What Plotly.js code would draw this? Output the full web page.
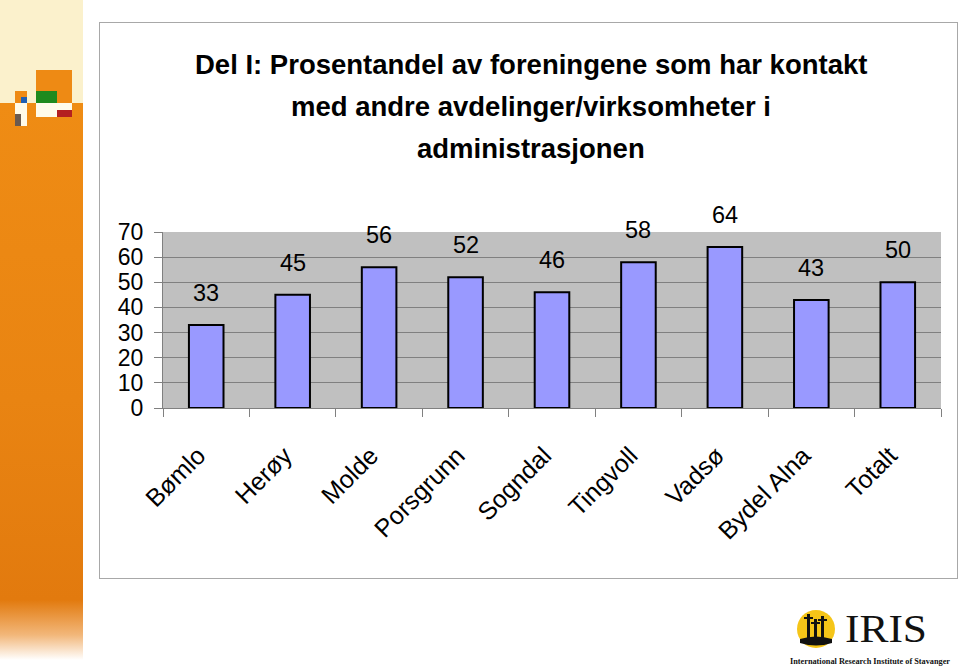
<!DOCTYPE html>
<html>
<head>
<meta charset="utf-8">
<script src="https://cdn.plot.ly/plotly-3.0.1.min.js"></script>
<style>
  html, body { margin: 0; padding: 0; background: #ffffff; }
  #page { position: relative; width: 960px; height: 669px; overflow: hidden; background: #fff; }
  #strip { position: absolute; left: 0; top: 0; width: 83px; height: 669px;
    background: linear-gradient(to bottom, #FBF1CC 0px, #FBF1CC 103px, #EF8C14 103px, #E98412 400px, #E27A0E 600px, #F2B77A 635px, #ffffff 660px); }
  .blk { position: absolute; }
  #frame { position: absolute; left: 99px; top: 22px; width: 857px; height: 555px; border: 1.5px solid #A8A8A8; background: #fff; }
  #chart { position: absolute; left: 0; top: 0; width: 960px; height: 669px; }
  #logo { position: absolute; left: 780px; top: 598px; }
</style>
</head>
<body>
<div id="page">
  <div id="strip"></div>
  <div class="blk" style="left:36px;top:70px;width:36px;height:33px;background:#EE8A14"></div>
  <div class="blk" style="left:36px;top:91px;width:21px;height:12px;background:#1E8A1E"></div>
  <div class="blk" style="left:15px;top:91px;width:12px;height:12px;background:#EE8A14"></div>
  <div class="blk" style="left:21px;top:97px;width:6px;height:6px;background:#1E5FB4"></div>
  <div class="blk" style="left:36px;top:103px;width:36px;height:14px;background:#FFFBEA"></div>
  <div class="blk" style="left:57px;top:110px;width:15px;height:7px;background:#B42020"></div>
  <div class="blk" style="left:15px;top:103px;width:12px;height:23px;background:#FFFBEA"></div>
  <div class="blk" style="left:15px;top:114px;width:6px;height:12px;background:#6A5A50"></div>
  <div id="frame"></div>
  <div id="chart"></div>
  <svg id="logo" width="180" height="71" viewBox="0 0 180 71">
    <circle cx="36" cy="31" r="19" fill="#F5C518"/>
    <path d="M20 41 Q36 36 52 41 L52 45 Q36 50 20 45 Z" fill="#111"/>
    <rect x="27" y="16" width="3" height="26" fill="#111"/>
    <rect x="24" y="19" width="9" height="2" fill="#111"/>
    <rect x="34" y="21" width="3" height="21" fill="#111"/>
    <rect x="31" y="24" width="9" height="2" fill="#111"/>
    <rect x="41" y="18" width="3" height="24" fill="#111"/>
    <rect x="38" y="21" width="9" height="2" fill="#111"/>
    <text x="65" y="44" font-family="'Liberation Serif','Times New Roman',serif" font-size="41" fill="#111" textLength="82" lengthAdjust="spacingAndGlyphs">IRIS</text>
    <text x="10" y="66" font-family="'Liberation Serif','Times New Roman',serif" font-weight="bold" font-size="8" fill="#111" textLength="160" lengthAdjust="spacingAndGlyphs">International Research Institute of Stavanger</text>
  </svg>
</div>
<script>
const categories = ['Bømlo', 'Herøy', 'Molde', 'Porsgrunn', 'Sogndal', 'Tingvoll', 'Vadsø', 'Bydel Alna', 'Totalt'];
const values = [33, 45, 56, 52, 46, 58, 64, 43, 50];
const yTickValues = [0, 10, 20, 30, 40, 50, 60, 70];
const titleLines = ['Del I: Prosentandel av foreningene som har kontakt', 'med andre avdelinger/virksomheter i', 'administrasjonen'];

const FONT = '"Liberation Sans", Arial, sans-serif';

// plot area geometry (pixels) used only to place the title lines in paper space
const PLOT_TOP = 232, PLOT_BOTTOM = 408;
const titleCentersPx = [64, 106, 148];
const paperY = (py) => (PLOT_BOTTOM - py) / (PLOT_BOTTOM - PLOT_TOP);

const trace = {
  type: 'bar',
  x: categories,
  y: values,
  width: 0.4,
  marker: { color: '#9999FF', line: { color: '#000000', width: 2 } },
  hoverinfo: 'skip'
};

const valueLabels = values.map((v, i) => ({
  x: categories[i], y: v, xref: 'x', yref: 'y',
  text: String(v), showarrow: false, yanchor: 'middle', yshift: 32,
  font: { family: FONT, size: 23.5, color: '#000' }
}));

const titleAnnotations = titleLines.map((t, i) => ({
  xref: 'paper', yref: 'paper', x: (531 - 163) / (941 - 163), y: paperY(titleCentersPx[i]),
  xanchor: 'center', yanchor: 'middle', showarrow: false,
  text: '<b>' + t + '</b>',
  font: { family: FONT, size: 27.5, color: '#000' }
}));

const layout = {
  width: 960, height: 669,
  margin: { l: 163, r: 19, t: 232, b: 261, pad: 0 },
  paper_bgcolor: 'rgba(0,0,0,0)',
  plot_bgcolor: '#C0C0C0',
  showlegend: false,
  xaxis: {
    type: 'category',
    tickangle: -45,
    tickfont: { family: FONT, size: 25, color: '#000' },
    ticks: 'outside', tickson: 'boundaries', ticklen: 8, tickcolor: '#808080',
    showline: true, linecolor: '#808080', linewidth: 1,
    showgrid: false, zeroline: false,
    ticklabelstandoff: 22,
    ticklabelshift: -8
  },
  yaxis: {
    range: [0, 70],
    tickmode: 'array', tickvals: yTickValues, ticktext: yTickValues.map(String),
    tickfont: { family: FONT, size: 23, color: '#000' },
    ticks: 'outside', ticklen: 8, tickcolor: '#808080',
    showline: true, linecolor: '#808080', linewidth: 1,
    showgrid: true, gridcolor: '#808080', gridwidth: 1,
    zeroline: false,
    ticklabelstandoff: 6
  },
  annotations: titleAnnotations.concat(valueLabels)
};

Plotly.newPlot('chart', [trace], layout, { staticPlot: true, displayModeBar: false });
</script>
</body>
</html>
